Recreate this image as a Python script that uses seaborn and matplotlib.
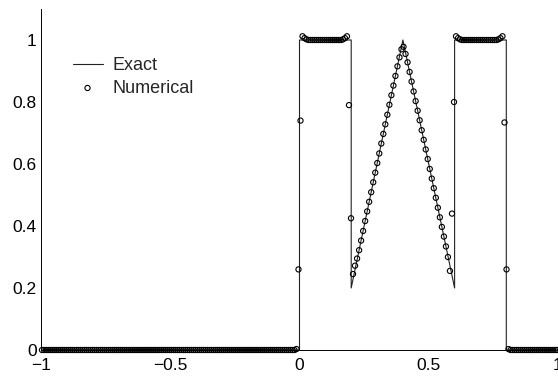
import matplotlib
matplotlib.use("Agg")
import matplotlib.pyplot as plt
import seaborn as sns
import pandas as pd

# Exact solution (piecewise linear breakpoints)
exact_x = [-1.0, 0.0, 0.0, 0.2, 0.2, 0.4, 0.6, 0.6, 0.8, 0.8, 1.0]
exact_y = [0.0, 0.0, 1.0, 1.0, 0.2, 1.0, 0.2, 1.0, 1.0, 0.0, 0.0]

# Numerical solution: cell centres and values
num_x = [
    -0.9961, -0.9883, -0.9805, -0.9727, -0.9648, -0.9570, -0.9492, -0.9414, -0.9336, -0.9258, -0.9180, -0.9102, -0.9023, -0.8945, -0.8867, -0.8789,
    -0.8711, -0.8633, -0.8555, -0.8477, -0.8398, -0.8320, -0.8242, -0.8164, -0.8086, -0.8008, -0.7930, -0.7852, -0.7773, -0.7695, -0.7617, -0.7539,
    -0.7461, -0.7383, -0.7305, -0.7227, -0.7148, -0.7070, -0.6992, -0.6914, -0.6836, -0.6758, -0.6680, -0.6602, -0.6523, -0.6445, -0.6367, -0.6289,
    -0.6211, -0.6133, -0.6055, -0.5977, -0.5898, -0.5820, -0.5742, -0.5664, -0.5586, -0.5508, -0.5430, -0.5352, -0.5273, -0.5195, -0.5117, -0.5039,
    -0.4961, -0.4883, -0.4805, -0.4727, -0.4648, -0.4570, -0.4492, -0.4414, -0.4336, -0.4258, -0.4180, -0.4102, -0.4023, -0.3945, -0.3867, -0.3789,
    -0.3711, -0.3633, -0.3555, -0.3477, -0.3398, -0.3320, -0.3242, -0.3164, -0.3086, -0.3008, -0.2930, -0.2852, -0.2773, -0.2695, -0.2617, -0.2539,
    -0.2461, -0.2383, -0.2305, -0.2227, -0.2148, -0.2070, -0.1992, -0.1914, -0.1836, -0.1758, -0.1680, -0.1602, -0.1523, -0.1445, -0.1367, -0.1289,
    -0.1211, -0.1133, -0.1055, -0.0977, -0.0898, -0.0820, -0.0742, -0.0664, -0.0586, -0.0508, -0.0430, -0.0352, -0.0273, -0.0195, -0.0117, -0.0039,
    0.0039, 0.0117, 0.0195, 0.0273, 0.0352, 0.0430, 0.0508, 0.0586, 0.0664, 0.0742, 0.0820, 0.0898, 0.0977, 0.1055, 0.1133, 0.1211,
    0.1289, 0.1367, 0.1445, 0.1523, 0.1602, 0.1680, 0.1758, 0.1836, 0.1914, 0.1992, 0.2070, 0.2148, 0.2227, 0.2305, 0.2383, 0.2461,
    0.2539, 0.2617, 0.2695, 0.2773, 0.2852, 0.2930, 0.3008, 0.3086, 0.3164, 0.3242, 0.3320, 0.3398, 0.3477, 0.3555, 0.3633, 0.3711,
    0.3789, 0.3867, 0.3945, 0.4023, 0.4102, 0.4180, 0.4258, 0.4336, 0.4414, 0.4492, 0.4570, 0.4648, 0.4727, 0.4805, 0.4883, 0.4961,
    0.5039, 0.5117, 0.5195, 0.5273, 0.5352, 0.5430, 0.5508, 0.5586, 0.5664, 0.5742, 0.5820, 0.5898, 0.5977, 0.6055, 0.6133, 0.6211,
    0.6289, 0.6367, 0.6445, 0.6523, 0.6602, 0.6680, 0.6758, 0.6836, 0.6914, 0.6992, 0.7070, 0.7148, 0.7227, 0.7305, 0.7383, 0.7461,
    0.7539, 0.7617, 0.7695, 0.7773, 0.7852, 0.7930, 0.8008, 0.8086, 0.8164, 0.8242, 0.8320, 0.8398, 0.8477, 0.8555, 0.8633, 0.8711,
    0.8789, 0.8867, 0.8945, 0.9023, 0.9102, 0.9180, 0.9258, 0.9336, 0.9414, 0.9492, 0.9570, 0.9648, 0.9727, 0.9805, 0.9883, 0.9961,
]
num_y = [
    0, 0, 0, 0, 0, 0, 0, 0, 0, 0, 0, 0, 0, 0, 0, 0,
    0, 0, 0, 0, 0, 0, 0, 0, 0, 0, 0, 0, 0, 0, 0, 0,
    0, 0, 0, 0, 0, 0, 0, 0, 0, 0, 0, 0, 0, 0, 0, 0,
    0, 0, 0, 0, 0, 0, 0, 0, 0, 0, 0, 0, 0, 0, 0, 0,
    0, 0, 0, 0, 0, 0, 0, 0, 0, 0, 0, 0, 0, 0, 0, 0,
    0, 0, 0, 0, 0, 0, 0, 0, 0, 0, 0, 0, 0, 0, 0, 0,
    0, 0, 0, 0, 0, 0, 0, 0, 0, 0, 0, 0, 0, 0, 0, 0,
    0, 0, 0, 0, 0, 0, 0, 0, 0, 0, 0, 0, 0, 0, 0.003, 0.26,
    0.74, 1.012, 1.006, 1.002, 1.0, 1.0, 1.0, 1.0, 1.0, 1.0, 1.0, 1.0, 1.0, 1.0, 1.0, 1.0,
    1.0, 1.0, 1.0, 1.0, 1.0, 1.002, 1.006, 1.012, 0.79, 0.425, 0.245, 0.272, 0.295, 0.322, 0.353, 0.384,
    0.416, 0.447, 0.478, 0.509, 0.541, 0.572, 0.603, 0.634, 0.666, 0.697, 0.728, 0.759, 0.791, 0.822, 0.853, 0.884,
    0.915, 0.944, 0.970, 0.978, 0.955, 0.928, 0.897, 0.866, 0.834, 0.803, 0.772, 0.741, 0.709, 0.678, 0.647, 0.616,
    0.584, 0.553, 0.522, 0.491, 0.459, 0.428, 0.397, 0.366, 0.334, 0.300, 0.255, 0.44, 0.80, 1.012, 1.006, 1.002,
    1.0, 1.0, 1.0, 1.0, 1.0, 1.0, 1.0, 1.0, 1.0, 1.0, 1.0, 1.0, 1.0, 1.0, 1.0, 1.0,
    1.0, 1.0, 1.002, 1.006, 1.012, 0.734, 0.26, 0.003, 0, 0, 0, 0, 0, 0, 0, 0,
    0, 0, 0, 0, 0, 0, 0, 0, 0, 0, 0, 0, 0, 0, 0, 0,
]

x_ticks = [-1, -0.5, 0, 0.5, 1]
x_tick_labels = ["\u22121", "\u22120.5", "0", "0.5", "1"]
y_ticks = [0, 0.2, 0.4, 0.6, 0.8, 1.0]
y_tick_labels = ["0", "0.2", "0.4", "0.6", "0.8", "1"]

sns.set_style("white")
plt.rcParams["font.family"] = ["Liberation Sans", "DejaVu Sans"]

fig = plt.figure(figsize=(5.58, 3.77), dpi=100)
ax = fig.add_axes([41 / 558, 27 / 377, 517 / 558, 341 / 377])

df_exact = pd.DataFrame({"x": exact_x, "y": exact_y})
df_num = pd.DataFrame({"x": num_x, "y": num_y})

sns.lineplot(data=df_exact, x="x", y="y", ax=ax, color="#222222", linewidth=0.8,
             sort=False, estimator=None, label="Exact")
sns.scatterplot(data=df_num, x="x", y="y", ax=ax, marker="o", s=14,
                facecolor="none", edgecolor="black", linewidth=0.8,
                label="Numerical", clip_on=False, zorder=3)

ax.set_xlim(-1, 1)
ax.set_ylim(0, 1.1)
ax.set_xticks(x_ticks)
ax.set_xticklabels(x_tick_labels)
ax.set_yticks(y_ticks)
ax.set_yticklabels(y_tick_labels)
ax.set_xlabel("")
ax.set_ylabel("")
ax.tick_params(direction="in", length=3, width=0.6, labelsize=12.5,
               colors="black")
ax.tick_params(axis="x", pad=5.5)
ax.tick_params(axis="y", pad=3)
for s in ["top", "right"]:
    ax.spines[s].set_visible(False)
for s in ["left", "bottom"]:
    ax.spines[s].set_color("black")
    ax.spines[s].set_linewidth(0.7)

leg = ax.legend(loc="upper left", bbox_to_anchor=(0.054, 0.87), frameon=False,
                fontsize=13, handlelength=1.66, handletextpad=0.55,
                labelspacing=0.32, borderpad=0.2, borderaxespad=0)

fig.savefig("out.png", dpi=100)
